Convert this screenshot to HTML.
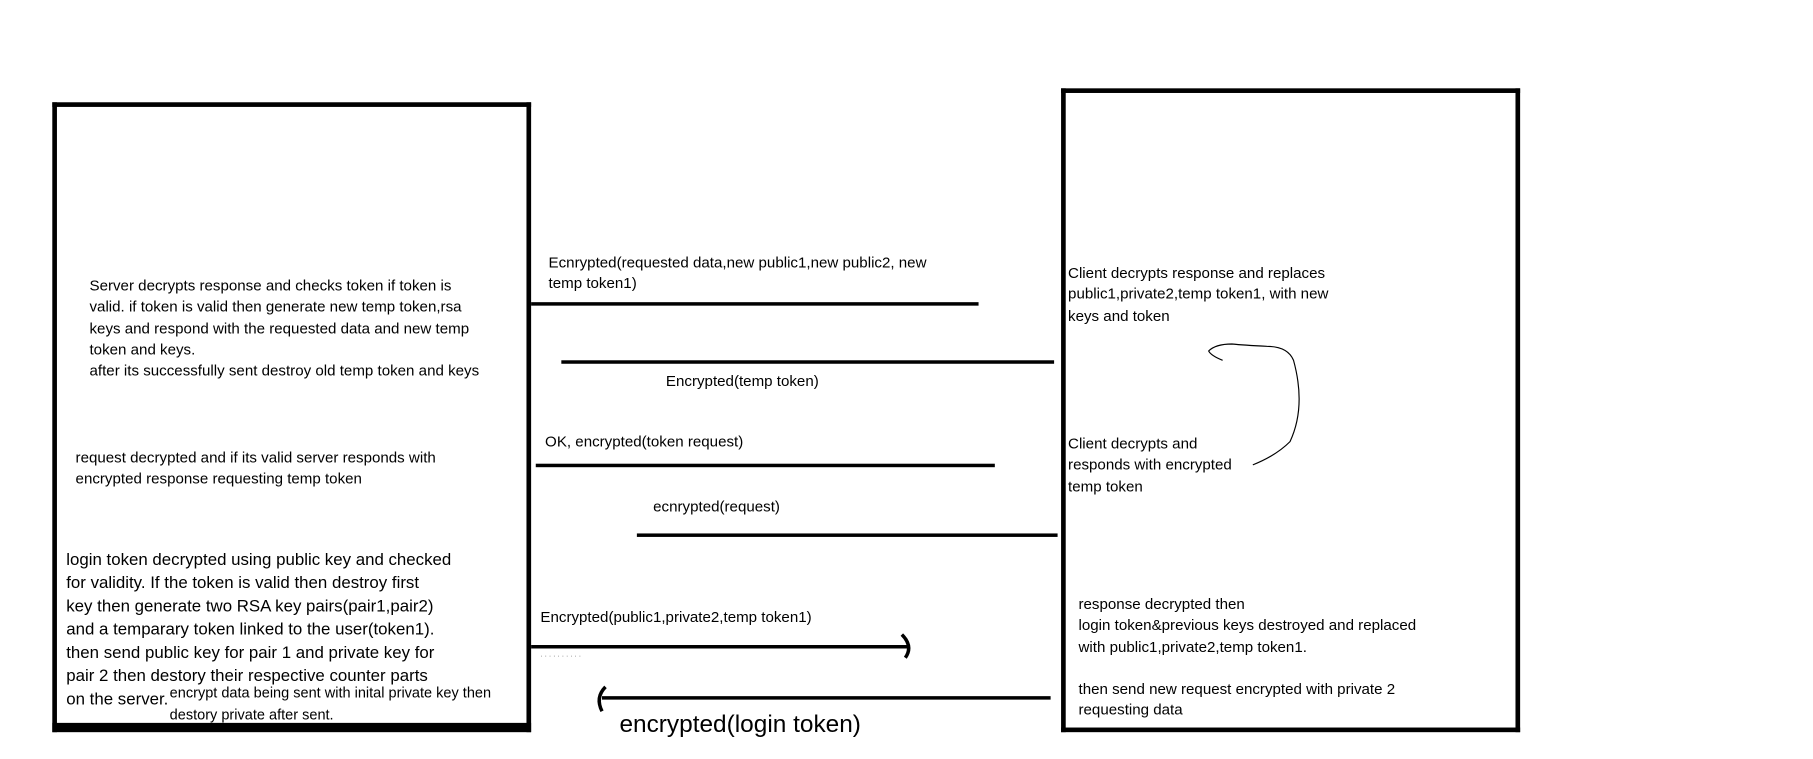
<!DOCTYPE html>
<html><head><meta charset="utf-8"><style>
html,body{margin:0;padding:0;background:#fff;overflow:hidden}
#w{width:1813px;height:759px;position:relative;overflow:hidden}
#s{position:absolute;left:0;top:0;width:1560px;height:653px;transform:scale(1.16218);transform-origin:0 0;font-family:"Liberation Sans",sans-serif;color:#000}
.t{position:absolute;font-size:13px;line-height:18.3px;white-space:nowrap}
.b{position:absolute;background:#000}
</style></head><body><div id="w"><div id="s">
<!-- left box -->
<div class="b" style="left:45px;top:88px;width:412px;height:4px"></div>
<div class="b" style="left:45px;top:88px;width:4px;height:542px"></div>
<div class="b" style="left:453px;top:88px;width:4px;height:542px"></div>
<div class="b" style="left:45px;top:622px;width:412px;height:8px"></div>
<!-- right box -->
<div class="b" style="left:913px;top:76px;width:395px;height:4px"></div>
<div class="b" style="left:913px;top:76px;width:4px;height:554px"></div>
<div class="b" style="left:1304px;top:76px;width:4px;height:554px"></div>
<div class="b" style="left:913px;top:626px;width:395px;height:4px"></div>
<!-- lines -->
<div class="b" style="left:457px;top:260px;width:385px;height:3px"></div>
<div class="b" style="left:483px;top:310px;width:424px;height:3px"></div>
<div class="b" style="left:461px;top:399px;width:395px;height:3px"></div>
<div class="b" style="left:548px;top:459px;width:362px;height:3px"></div>
<div class="b" style="left:457px;top:555px;width:326px;height:3px"></div>
<div class="b" style="left:518px;top:599px;width:386px;height:3px"></div>
<svg style="position:absolute;left:0;top:0" width="1560" height="653">
<path d="M776 546 Q786 556 779 566" stroke="#000" stroke-width="3" fill="none"/>
<path d="M521 591 Q512 600 518 612" stroke="#000" stroke-width="3" fill="none"/>
<path d="M1078 400 Q1098 392 1110 380 Q1124 350 1113 310 Q1108 298 1090 298 Q1070 297 1060 296 Q1046 296 1040 302 Q1042 306 1052 310" stroke="#000" stroke-width="1" fill="none"/>
<text x="465" y="566" font-size="6" fill="#555" font-family="Liberation Sans">·  ·    ·   ·    ·  ·  ·          ·        ·      ·</text>
</svg>
<!-- edge labels -->
<div class="t" style="left:472px;top:217px">Ecnrypted(requested data,new public1,new public2, new<br>temp token1)</div>
<div class="t" style="left:573px;top:319px">Encrypted(temp token)</div>
<div class="t" style="left:469px;top:371px">OK, encrypted(token request)</div>
<div class="t" style="left:562px;top:427px">ecnrypted(request)</div>
<div class="t" style="left:465px;top:522px">Encrypted(public1,private2,temp token1)</div>
<div class="t" style="left:533px;top:610px;font-size:21px;line-height:28px">encrypted(login token)</div>
<!-- left box text -->
<div class="t" style="left:77px;top:237px">Server decrypts response and checks token if token is<br>valid. if token is valid then generate new temp token,rsa<br>keys and respond with the requested data and new temp<br>token and keys.<br>after its successfully sent destroy old temp token and keys</div>
<div class="t" style="left:65px;top:385px">request decrypted and if its valid server responds with<br>encrypted response requesting temp token</div>
<div class="t" style="left:57px;top:472px;font-size:14.5px;line-height:20px">login token decrypted using public key and checked<br>for validity. If the token is valid then destroy first<br>key then generate two RSA key pairs(pair1,pair2)<br>and a temparary token linked to the user(token1).<br>then send public key for pair 1 and private key for<br>pair 2 then destory their respective counter parts<br>on the server.</div>
<div class="t" style="left:146px;top:587px;font-size:12.5px;line-height:19px">encrypt data being sent with inital private key then<br>destory private after sent.</div>
<!-- right box text -->
<div class="t" style="left:919px;top:226px">Client decrypts response and replaces<br>public1,private2,temp token1, with new<br>keys and token</div>
<div class="t" style="left:919px;top:373px">Client decrypts and<br>responds with encrypted<br>temp token</div>
<div class="t" style="left:928px;top:511px">response decrypted then<br>login token&amp;previous keys destroyed and replaced<br>with public1,private2,temp token1.<br><br>then send new request encrypted with private 2<br>requesting data</div>
</div></div></body></html>
